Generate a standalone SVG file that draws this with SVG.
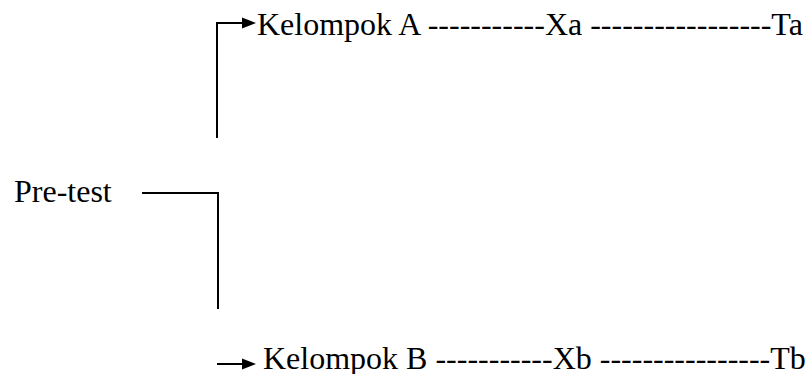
<svg xmlns="http://www.w3.org/2000/svg" width="810" height="374" viewBox="0 0 810 374">
<rect width="810" height="374" fill="#fff"/>
<g id="connectors" stroke="#000" stroke-width="2" fill="none">
<path d="M217,138 V23 H243"/>
<polygon points="242,17.5 256,23 242,28.5" fill="#000" stroke="none"/>
<path d="M142,193 H218 V309"/>
<path d="M217,364 H243"/>
<polygon points="242,358.5 256,364 242,369.5" fill="#000" stroke="none"/>
</g>
<g id="pretest"><text x="14" y="202" font-family="Liberation Serif" font-size="32" fill="#000">Pre-test</text></g>
<g id="kelompok-a"><text x="257" y="35" font-family="Liberation Serif" font-size="32" fill="#000">Kelompok A -----------Xa -----------------Ta</text></g>
<g id="kelompok-b"><text x="263" y="369" font-family="Liberation Serif" font-size="32" fill="#000">Kelompok B -----------Xb ----------------Tb</text></g>
</svg>
